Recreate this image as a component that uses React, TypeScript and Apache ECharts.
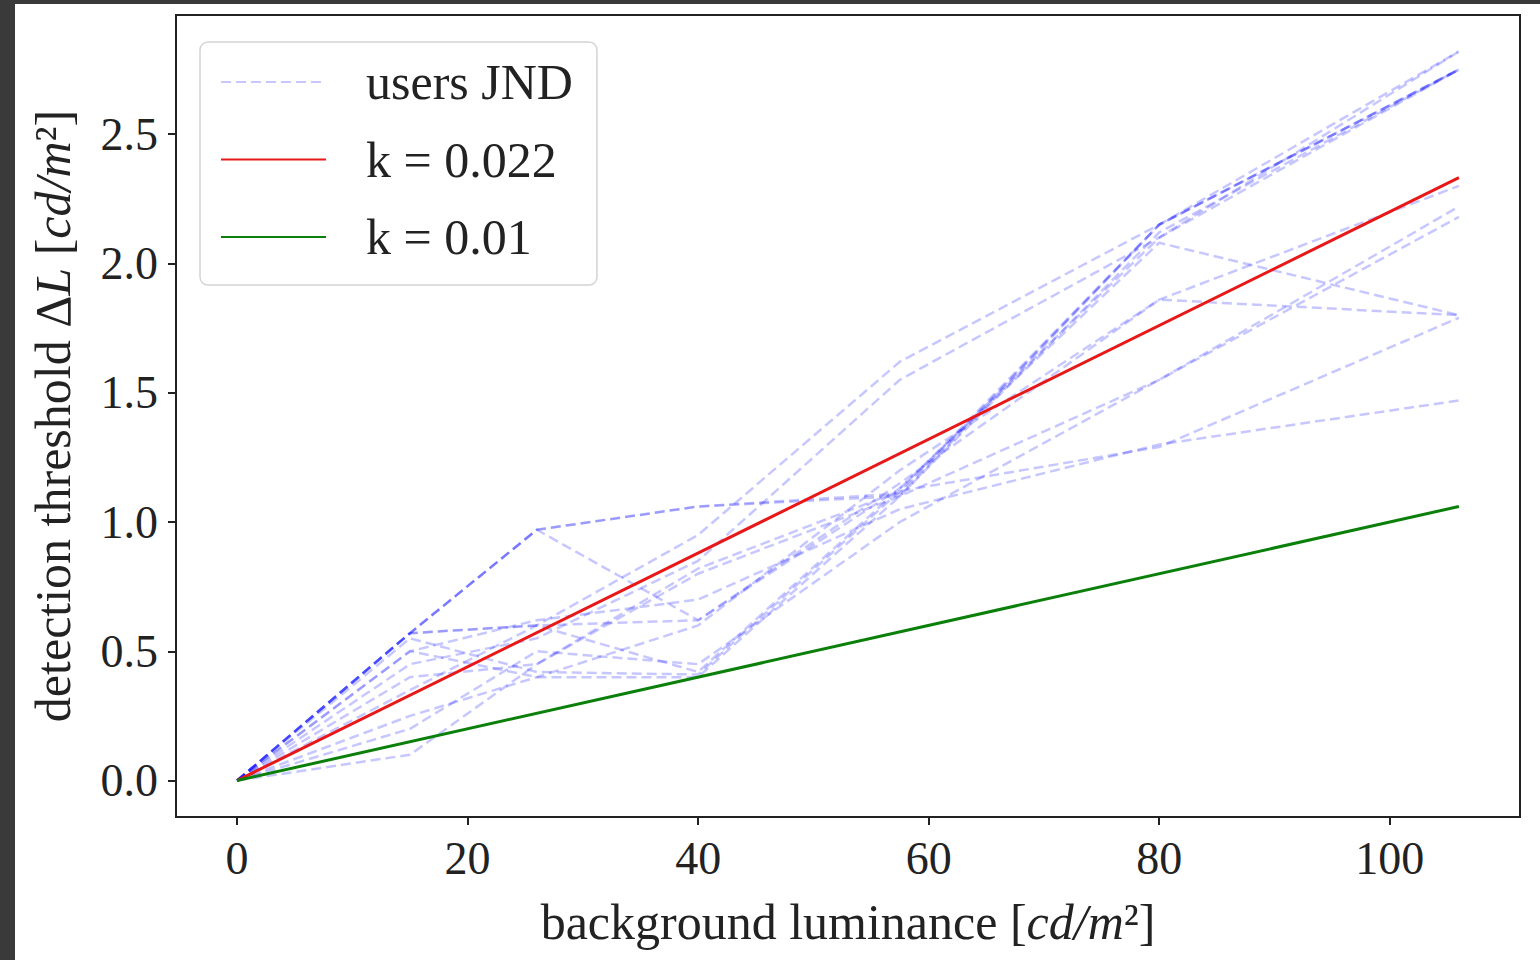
import React, { useEffect, useRef } from "react";
import * as echarts from "echarts";

// background luminance levels [cd/m^2]
const luminance = [0, 15, 26, 40, 57.5, 80, 106];

// per-user JND detection thresholds at each luminance level
const user01 = [0, 0.57, 0.97, 1.06, 1.10, 2.15, 2.75];
const user02 = [0, 0.57, 0.97, 1.06, 1.11, 2.15, 2.75];
const user03 = [0, 0.55, 0.42, 0.41, 1.12, 2.15, 2.75];
const user04 = [0, 0.50, 0.40, 0.40, 1.10, 2.12, 2.75];
const user05 = [0, 0.57, 0.60, 0.42, 1.13, 2.10, 2.75];
const user06 = [0, 0.35, 0.60, 0.95, 1.62, 2.15, 2.82];
const user07 = [0, 0.45, 0.55, 0.85, 1.55, 2.10, 2.82];
const user08 = [0, 0.57, 0.97, 0.62, 1.13, 2.08, 1.80];
const user09 = [0, 0.10, 0.45, 0.82, 1.12, 1.29, 1.79];
const user10 = [0, 0.57, 0.60, 0.62, 1.15, 1.86, 1.80];
const user11 = [0, 0.25, 0.40, 0.60, 1.20, 1.86, 2.30];
const user12 = [0, 0.20, 0.50, 0.45, 1.00, 1.55, 2.22];
const user13 = [0, 0.40, 0.45, 0.80, 1.10, 1.55, 2.18];
const user14 = [0, 0.50, 0.62, 0.70, 1.05, 1.30, 1.47];
const users = [user01, user02, user03, user04, user05, user06, user07, user08, user09, user10, user11, user12, user13, user14];

// Weber fits
const fitLuminance = [0, 106];
const kHighValues = [0, 2.332];
const kLowValues = [0, 1.06];

const xTicks = [0, 20, 40, 60, 80, 100];
const yTicks = [0, 0.5, 1.0, 1.5, 2.0, 2.5];

const legendNames = ["users JND", "k = 0.022", "k = 0.01"];

export default function App() {
  const ref = useRef<HTMLDivElement>(null);

  useEffect(() => {
    if (!ref.current) return;
    const chart = echarts.init(ref.current, null, { renderer: "svg" });
    const font = "'Liberation Serif', 'DejaVu Serif', serif";
    const txt = "#222";
    const titleSize = 50;

    const userSeries = users.map((ys) => ({
      type: "line",
      name: legendNames[0],
      data: luminance.map((x, i) => [x, ys[i]]),
      symbol: "none",
      silent: true,
      z: 2,
      lineStyle: { color: "#0000ff", width: 2.5, type: [10, 5], opacity: 0.22 },
      itemStyle: { color: "#0000ff", opacity: 0.22 },
    }));

    const tickStyle = (vals: number[]) => ({
      show: true,
      inside: false,
      length: 8,
      customValues: vals,
      lineStyle: { color: "#222", width: 2 },
    });

    const option = {
      animation: false,
      backgroundColor: "#ffffff",
      grid: {
        left: 161,
        top: 11,
        right: 20,
        bottom: 143,
        show: true,
        borderColor: "#222",
        borderWidth: 2,
        backgroundColor: "transparent",
      },
      legend: {
        data: legendNames,
        orient: "vertical",
        left: 185,
        top: 38,
        selectedMode: false,
        itemWidth: 105,
        itemHeight: 14,
        itemGap: 27.5,
        padding: [15, 24, 23, 20],
        backgroundColor: "rgba(255,255,255,0.8)",
        borderColor: "#d4d4d4",
        borderWidth: 1.5,
        borderRadius: 8,
        itemStyle: { opacity: 0 },
        textStyle: {
          fontFamily: font,
          fontSize: titleSize,
          lineHeight: 46,
          color: txt,
          padding: [0, 0, 0, 35],
        },
      },
      xAxis: {
        type: "value",
        min: -5.3,
        max: 111.3,
        axisLine: { show: false, onZero: false },
        splitLine: { show: false },
        axisTick: tickStyle(xTicks),
        axisLabel: {
          customValues: xTicks,
          fontFamily: font,
          fontSize: 46,
          color: txt,
          margin: 18,
          formatter: (v: number) => String(v),
        },
        name: "background luminance [{i|cd/m}²]",
        nameLocation: "middle",
        nameGap: 80,
        nameTextStyle: {
          fontFamily: font,
          fontSize: titleSize,
          color: txt,
          rich: { i: { fontFamily: font, fontSize: titleSize, fontStyle: "italic", color: txt } },
        },
      },
      yAxis: {
        type: "value",
        min: -0.141,
        max: 2.961,
        axisLine: { show: false, onZero: false },
        splitLine: { show: false },
        axisTick: tickStyle(yTicks),
        axisLabel: {
          customValues: yTicks,
          fontFamily: font,
          fontSize: 46,
          color: txt,
          margin: 18,
          formatter: (v: number) => v.toFixed(1),
        },
        name: "detection threshold Δ{i|L} [{i|cd/m}²]",
        nameLocation: "middle",
        nameGap: 98,
        nameTextStyle: {
          fontFamily: font,
          fontSize: titleSize,
          color: txt,
          rich: { i: { fontFamily: font, fontSize: titleSize, fontStyle: "italic", color: txt } },
        },
      },
      series: [
        ...userSeries,
        {
          type: "line",
          name: legendNames[1],
          data: fitLuminance.map((x, i) => [x, kHighValues[i]]),
          symbol: "none",
          silent: true,
          z: 3,
          lineStyle: { color: "#e81818", width: 3 },
          itemStyle: { color: "#e81818" },
        },
        {
          type: "line",
          name: legendNames[2],
          data: fitLuminance.map((x, i) => [x, kLowValues[i]]),
          symbol: "none",
          silent: true,
          z: 3,
          lineStyle: { color: "#0a800a", width: 3 },
          itemStyle: { color: "#0a800a" },
        },
      ],
    };

    chart.setOption(option as any);
    return () => chart.dispose();
  }, []);

  return (
    <div
      style={{
        position: "fixed",
        left: 0,
        top: 0,
        width: 1540,
        height: 960,
        background: "#3a3a3a",
      }}
    >
      <div
        ref={ref}
        style={{
          position: "absolute",
          left: 15,
          top: 4,
          width: 1525,
          height: 956,
          background: "#ffffff",
        }}
      />
    </div>
  );
}
